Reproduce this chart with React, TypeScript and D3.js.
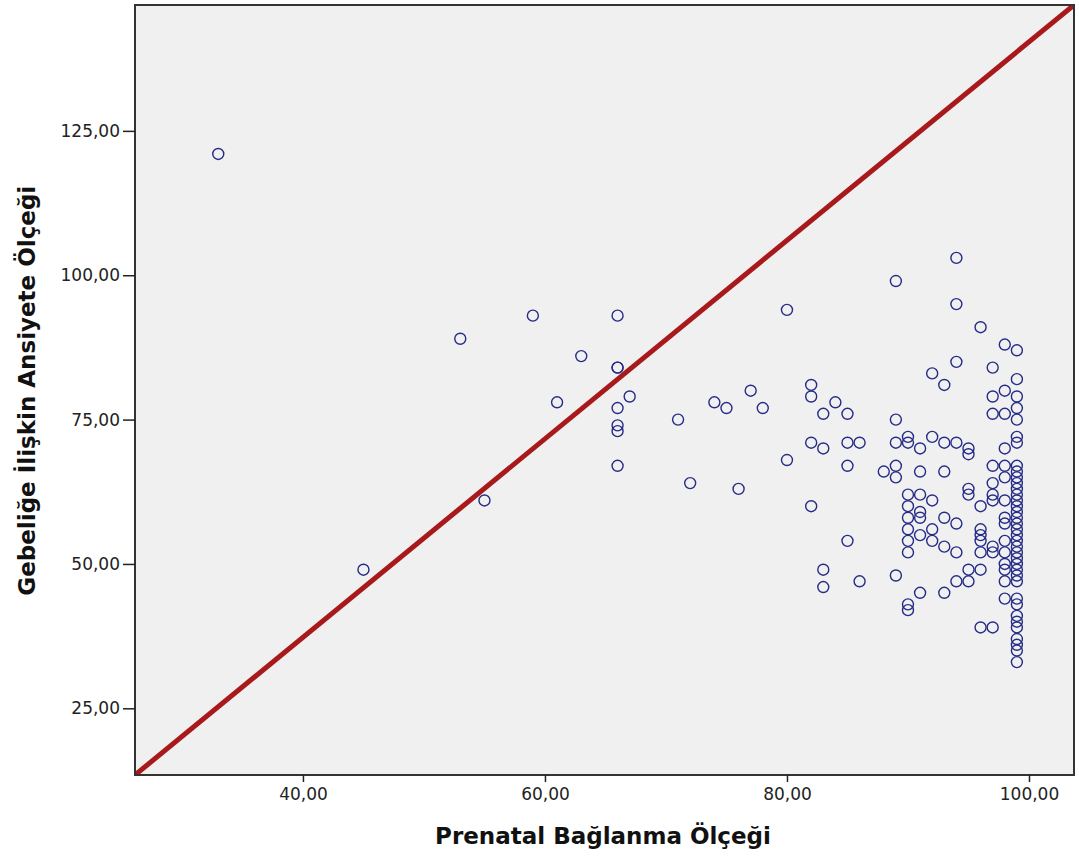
import React, { useRef, useEffect } from "react";
import * as d3 from "d3";

// x value (Prenatal Bağlanma Ölçeği) of each column of points
const xColumns = [
  33, 45, 53, 55, 59, 61, 63, 66, 67, 71, 72, 74, 75, 76, 77, 78, 80, 82, 83,
  84, 85, 86, 88, 89, 90, 91, 92, 93, 94, 95, 96, 97, 98, 99,
];
// y values (Gebeliğe İlişkin Ansiyete Ölçeği) read for each column above
const yColumns = [
  [121],
  [49],
  [89],
  [61],
  [93],
  [78],
  [86],
  [93, 84, 84, 77, 74, 73, 67],
  [79],
  [75],
  [64],
  [78],
  [77],
  [63],
  [80],
  [77],
  [94, 68],
  [81, 79, 71, 60],
  [76, 70, 49, 46],
  [78],
  [76, 71, 67, 54],
  [71, 47],
  [66],
  [99, 75, 71, 67, 65, 48],
  [72, 71, 62, 60, 58, 56, 54, 52, 43, 42],
  [70, 66, 62, 59, 58, 55, 45],
  [83, 72, 61, 56, 54],
  [81, 71, 66, 58, 53, 45],
  [103, 95, 85, 71, 57, 52, 47],
  [70, 69, 63, 62, 49, 47],
  [91, 60, 56, 55, 54, 52, 49, 39],
  [84, 79, 76, 67, 64, 62, 61, 53, 52, 39],
  [88, 80, 76, 70, 67, 65, 61, 58, 57, 54, 52, 50, 49, 47, 44],
  [
    87, 82, 79, 77, 75, 72, 71, 67, 66, 65, 64, 63, 62, 61, 60, 59, 58, 57, 56,
    55, 54, 53, 52, 51, 50, 49, 48, 47, 44, 43, 41, 40, 39, 37, 36, 35, 33,
  ],
];

const xTicks = [40, 60, 80, 100];
const yTicks = [25, 50, 75, 100, 125];
const xDomain = [26.12, 103.72];
const yDomain = [13.45, 146.8];
// reference line runs from the lower-left to the upper-right corner
const refLine = [
  [26.12, 13.45],
  [103.72, 146.8],
];

const xTitle = "Prenatal Bağlanma Ölçeği";
const yTitle = "Gebeliğe İlişkin Ansiyete Ölçeği";

const width = 1079;
const height = 857;
const margin = { top: 5, right: 5, bottom: 82, left: 135 };

const fmt = (v) => d3.format(".2f")(v).replace(".", ",");

export default function App() {
  const xAxisRef = useRef(null);
  const yAxisRef = useRef(null);

  const xScale = d3
    .scaleLinear()
    .domain(xDomain)
    .range([margin.left, width - margin.right]);
  const yScale = d3
    .scaleLinear()
    .domain(yDomain)
    .range([height - margin.bottom, margin.top]);

  const points = [];
  xColumns.forEach((x, i) => {
    yColumns[i].forEach((y) => points.push([x, y]));
  });

  const lineGen = d3
    .line()
    .x((d) => xScale(d[0]))
    .y((d) => yScale(d[1]));

  useEffect(() => {
    const xAxis = d3
      .axisBottom(xScale)
      .tickValues(xTicks)
      .tickFormat(fmt)
      .tickSize(7)
      .tickPadding(6);
    const gx = d3.select(xAxisRef.current).call(xAxis);
    gx.select(".domain").remove();
    gx.selectAll("line").attr("stroke", "#222").attr("stroke-width", 1.5);
    gx.selectAll("text")
      .attr("fill", "#222")
      .attr("font-size", 17)
      .attr("font-family", "DejaVu Sans");

    const yAxis = d3
      .axisLeft(yScale)
      .tickValues(yTicks)
      .tickFormat(fmt)
      .tickSize(12)
      .tickPadding(3);
    const gy = d3.select(yAxisRef.current).call(yAxis);
    gy.select(".domain").remove();
    gy.selectAll("line").attr("stroke", "#222").attr("stroke-width", 1.5);
    gy.selectAll("text")
      .attr("fill", "#222")
      .attr("font-size", 17)
      .attr("font-family", "DejaVu Sans");
  }, []);

  const plotW = width - margin.left - margin.right;
  const plotH = height - margin.top - margin.bottom;

  return (
    <svg
      width={width}
      height={height}
      style={{ position: "absolute", left: 0, top: 0, background: "#fff" }}
    >
      <defs>
        <clipPath id="plotClip">
          <rect x={margin.left} y={margin.top} width={plotW} height={plotH} />
        </clipPath>
      </defs>
      <rect
        x={margin.left}
        y={margin.top}
        width={plotW}
        height={plotH}
        fill="#f0f0f0"
      />
      <g clipPath="url(#plotClip)">
        <path
          d={lineGen(refLine)}
          stroke="#a8191b"
          strokeWidth={5}
          fill="none"
        />
        {points.map((p, i) => (
          <circle
            key={i}
            cx={xScale(p[0])}
            cy={yScale(p[1])}
            r={5.5}
            fill="none"
            stroke="#252c86"
            strokeWidth={1.4}
          />
        ))}
      </g>
      <rect
        x={margin.left}
        y={margin.top}
        width={plotW}
        height={plotH}
        fill="none"
        stroke="#333"
        strokeWidth={2}
      />
      <g
        ref={xAxisRef}
        transform={`translate(0, ${height - margin.bottom})`}
      />
      <g ref={yAxisRef} transform={`translate(${margin.left}, 0)`} />
      <text
        x={603}
        y={844}
        textAnchor="middle"
        fontFamily="DejaVu Sans"
        fontWeight="bold"
        fontSize={23}
        fill="#111"
      >
        {xTitle}
      </text>
      <text
        transform={`translate(35, ${yScale(80)}) rotate(-90)`}
        textAnchor="middle"
        fontFamily="DejaVu Sans"
        fontWeight="bold"
        fontSize={23}
        fill="#111"
      >
        {yTitle}
      </text>
    </svg>
  );
}
